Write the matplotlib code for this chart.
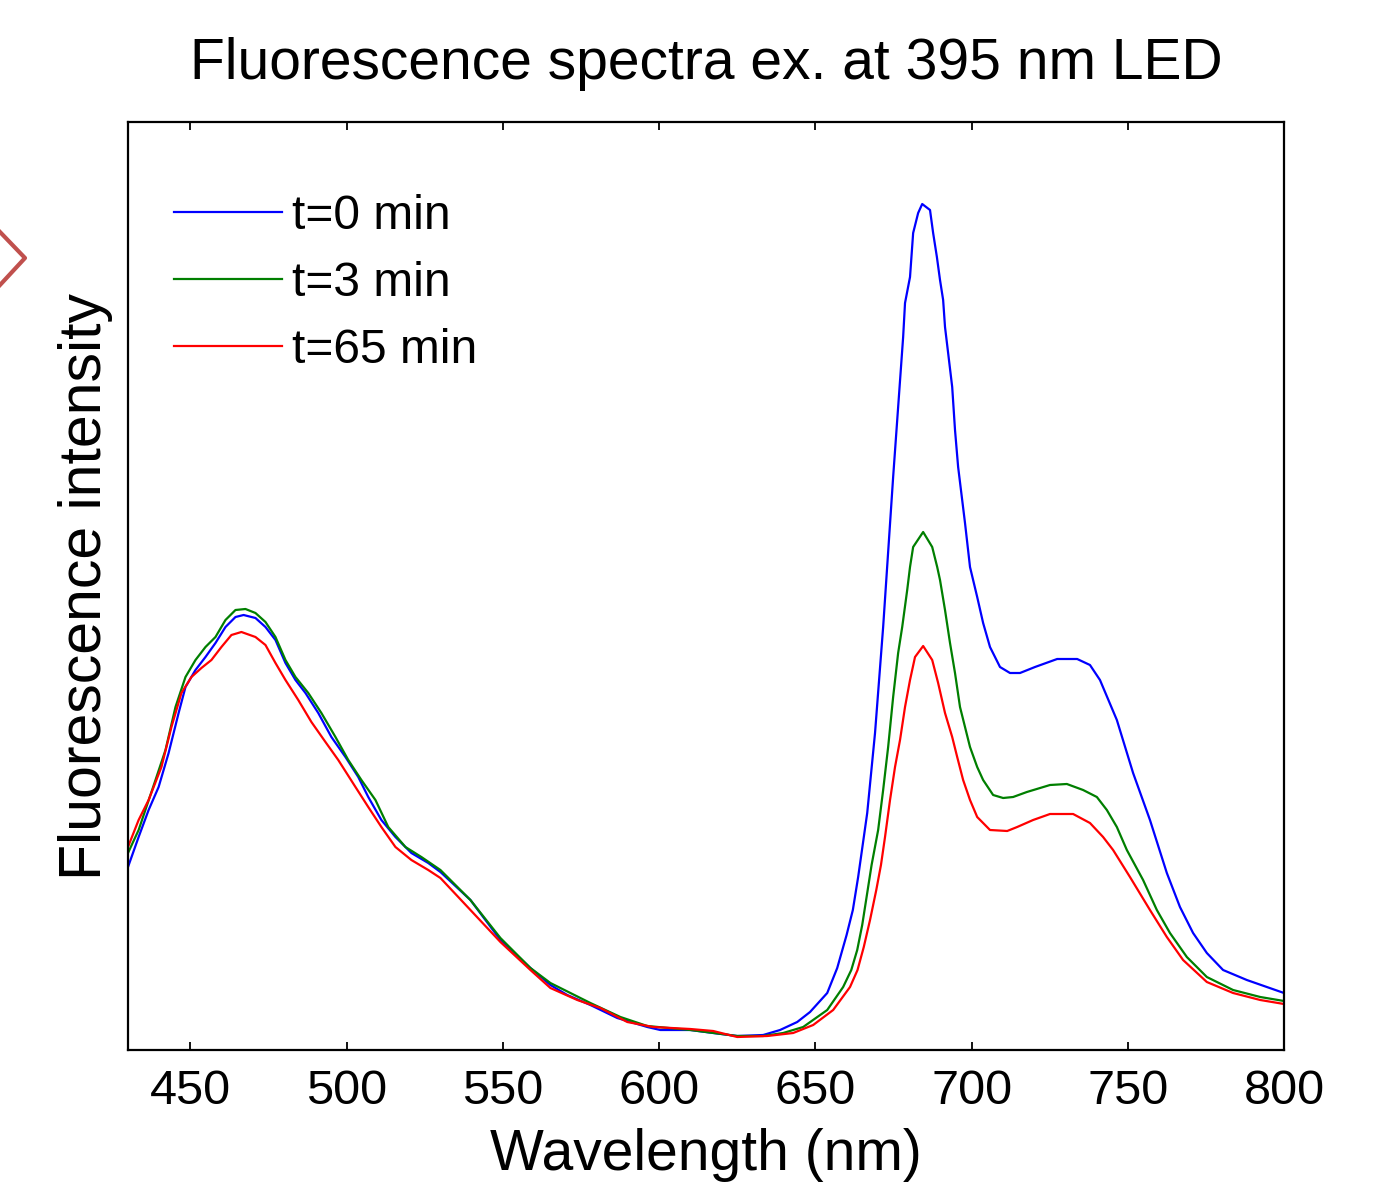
import matplotlib
matplotlib.use("Agg")
import matplotlib.pyplot as plt
from matplotlib.lines import Line2D

plt.rcParams['font.family'] = ['Liberation Sans', 'DejaVu Sans']

# ---- data (arbitrary intensity units) ----
wl_0 = [430, 433.4, 436.6, 439.8, 443.0, 446.2, 448.4, 451.6, 454.8, 458.0, 461.2, 464.4, 467.0,
        470.8, 474.0, 477.2, 480.4, 483.6, 486.8, 490.9, 495.1, 499.6, 503.7, 506.9, 511.1, 515.6,
        520.7, 526.1, 530.0, 539.6, 549.2, 558.8, 565.2, 570.6, 578.0, 586.6, 596.2, 600.4, 610.0,
        617.3, 625.0, 633.3, 638.7, 644.2, 648.3, 653.8, 657.0, 660.0, 662.0, 663.7, 666.6, 669.1,
        671.7, 674.9, 676.5, 678.1, 678.7, 680.3, 681.3, 682.9, 684.2, 686.7, 687.7, 688.9, 689.9,
        690.9, 691.5, 692.5, 693.8, 694.7, 695.7, 697.9, 699.5, 701.8, 703.7, 705.9, 709.1, 712.3,
        715.5, 720.3, 727.4, 733.8, 737.9, 741.1, 746.5, 751.7, 757.1, 762.5, 766.7, 770.9, 775.3,
        780.5, 788.1, 794.5, 800]
int_0 = [183, 213, 240, 263, 297, 337, 363, 380, 393, 407, 423, 433, 435,
         432, 423, 410, 387, 370, 357, 337, 313, 293, 273, 253, 230, 213,
         197, 187, 178, 150, 110, 82, 65, 55, 45, 32, 23, 20, 20,
         17, 14, 15, 20, 28, 38, 57, 82, 115, 140, 173, 237, 317,
         423, 573, 643, 713, 747, 773, 817, 837, 846, 840, 817, 793, 770,
         750, 723, 697, 663, 620, 583, 527, 483, 453, 427, 403, 383, 377,
         377, 383, 391, 391, 385, 370, 330, 277, 230, 177, 143, 117, 97,
         80, 70, 63, 57]

wl_3 = [430, 433.4, 438.8, 442.0, 445.2, 448.4, 451.6, 454.8, 458.0, 461.2, 464.4, 467.6, 470.8,
        474.0, 477.2, 480.4, 483.6, 487.7, 491.9, 496.4, 500.5, 504.7, 509.2, 513.3, 518.8, 523.9,
        530.0, 539.6, 549.2, 558.8, 565.2, 578.0, 587.6, 596.2, 610.0, 625.0, 633.3, 639.7, 646.1,
        653.8, 658.9, 661.5, 663.4, 665.0, 666.5, 668.0, 670.1, 671.7, 673.3, 674.9, 676.5, 677.8,
        679.4, 680.3, 681.3, 684.5, 687.4, 689.0, 689.9, 691.5, 693.1, 694.7, 696.3, 697.9, 699.5,
        701.8, 703.7, 706.9, 710.1, 713.3, 717.7, 725.1, 730.5, 735.7, 740.1, 743.3, 746.5, 749.7,
        754.9, 759.3, 763.5, 768.9, 775.3, 783.7, 792.4, 800]
int_3 = [197, 220, 270, 300, 343, 373, 390, 403, 413, 430, 440, 441, 437,
         428, 413, 390, 373, 357, 337, 313, 290, 270, 250, 223, 203, 193,
         180, 150, 112, 82, 67, 47, 33, 24, 20, 14, 14, 17, 23,
         40, 63, 80, 100, 125, 155, 185, 220, 260, 303, 353, 397, 423,
         460, 483, 503, 518, 503, 483, 470, 440, 407, 377, 343, 323, 303,
         283, 270, 255, 252, 253, 258, 265, 266, 260, 253, 240, 223, 200,
         170, 140, 117, 93, 73, 60, 53, 49]

wl_65 = [430, 433.4, 436.6, 440.7, 443.9, 447.1, 450.3, 453.5, 456.7, 459.9, 463.1, 466.3, 470.8,
         474.0, 477.2, 480.4, 484.5, 488.7, 493.2, 497.3, 502.8, 506.9, 511.1, 515.6, 520.7, 526.1,
         530.0, 539.6, 549.2, 558.8, 565.2, 573.8, 581.2, 589.8, 598.1, 610.0, 617.3, 625.0, 634.6,
         642.9, 649.3, 655.7, 661.1, 663.5, 665.5, 667.5, 669.5, 671.0, 672.3, 673.9, 675.5, 677.1,
         678.7, 680.3, 681.9, 684.5, 687.4, 689.3, 691.5, 693.8, 695.4, 697.3, 699.5, 701.8, 705.9,
         711.4, 714.6, 719.7, 725.1, 732.5, 737.9, 742.1, 745.3, 750.7, 757.1, 762.5, 767.7, 775.3,
         783.7, 792.4, 800]
int_65 = [203, 230, 250, 283, 323, 357, 373, 382, 390, 403, 415, 418, 413,
          405, 387, 370, 350, 328, 308, 290, 263, 243, 223, 203, 190, 180,
          172, 140, 108, 80, 62, 50, 42, 28, 23, 21, 19, 13, 14,
          17, 25, 40, 63, 80, 103, 130, 160, 185, 213, 250, 283, 310,
          343, 370, 393, 404, 390, 367, 337, 313, 293, 270, 250, 233, 220,
          219, 223, 230, 236, 236, 227, 213, 200, 173, 140, 113, 90, 68,
          57, 50, 46]

labels = ["t=0 min", "t=3 min", "t=65 min"]
colors = ["#0000ff", "#007f00", "#ff0000"]
xticks = [450, 500, 550, 600, 650, 700, 750, 800]

# ---- figure ----
fig = plt.figure(figsize=(13.89, 11.83), dpi=100)
ax = fig.add_axes([128/1389, 1-1050/1183, (1284-128)/1389, (1050-122)/1183])

for wl, it, lab, c in zip([wl_0, wl_3, wl_65], [int_0, int_3, int_65], labels, colors):
    ax.plot(wl, it, color=c, lw=1.6, label=lab)

ax.set_xlim(430, 800)
ax.set_ylim(0, 928)
ax.set_xticks(xticks)
ax.set_yticks([])
ax.tick_params(axis='x', direction='in', top=True, bottom=True, length=6, width=1.3,
               labelsize=35, pad=14)
for s in ax.spines.values():
    s.set_linewidth(1.6)

ax.set_xlabel("Wavelength (nm)", fontsize=41, labelpad=10)
ax.set_ylabel("Fluorescence intensity", fontsize=42.5, labelpad=11)
ax.set_title("Fluorescence spectra ex. at 395 nm LED", fontsize=41, pad=31)

ax.legend(loc='upper left', frameon=False, fontsize=34.5, handlelength=2.25,
          handletextpad=0.22, labelspacing=0.46, bbox_to_anchor=(0.023, 0.943), borderaxespad=0)

# partial chevron decoration at left edge
fig.add_artist(Line2D([0/1389, 25/1389, 0/1389], [1-232/1183, 1-258/1183, 1-285/1183],
                      transform=fig.transFigure, color="#c0504d", lw=3))

fig.savefig("out.png", dpi=100)
